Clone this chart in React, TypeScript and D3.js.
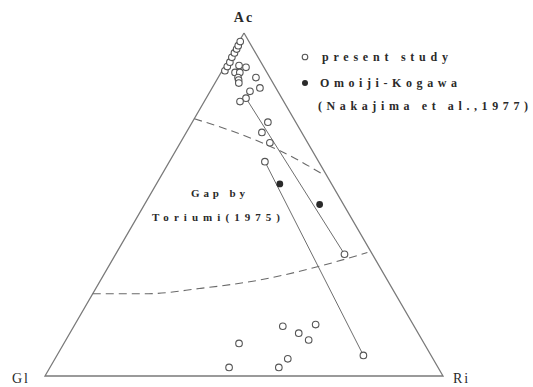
import React from "react";
import * as d3 from "d3";

// Ternary compositions, each point as [Ac, Gl, Ri] in percent
const presentStudy: [number, number, number][] = [
  // cluster close to the Ac apex along the Ac–Gl side
  [89, 10.3, 0.7],
  [90.2, 9.1, 0.7],
  [91.5, 7.8, 0.7],
  [92.9, 6.6, 0.5],
  [94.2, 5.3, 0.5],
  [95.3, 4.2, 0.5],
  [96.3, 3.3, 0.4],
  [97.5, 2.2, 0.3],
  // Ac-rich samples
  [90.5, 6, 3.5],
  [90, 4.5, 5.5],
  [88.5, 8, 3.5],
  [88.5, 6.8, 4.7],
  [87, 8, 5],
  [86.3, 8.2, 5.5],
  [85.4, 8.6, 6],
  [87, 3.5, 9.5],
  [84, 4, 12],
  [83, 7, 10],
  [81, 9, 10],
  [80, 11, 9],
  [74, 7, 19],
  [71, 10, 19],
  [68, 9.5, 22.5],
  [62.5, 13.5, 24],
  [35.5, 7, 57.5],
  [6, 17, 77],
  // Ri-rich samples near the base
  [14.5, 33, 52.5],
  [15, 24.5, 60.5],
  [12.5, 30, 57.5],
  [10.5, 28.5, 61],
  [9.5, 46.5, 44],
  [5, 36.5, 58.5],
  [2.5, 40, 57.5],
  [2.5, 52.5, 45],
];

const omoijiKogawa: [number, number, number][] = [
  [56, 13, 31],
  [50, 6, 44],
];

// Coexisting pairs joined by tie lines
const tieLines: [number, number, number][][] = [
  [
    [62.5, 13.5, 24],
    [6, 17, 77],
  ],
  [
    [80, 11, 9],
    [81, 9, 10],
    [35.5, 7, 57.5],
  ],
];

// Limits of the compositional gap (Toriumi, 1975)
const gapUpper: [number, number, number][] = [
  [75, 25, 0],
  [71.5, 17.5, 11],
  [68, 11.5, 20.5],
  [63.5, 5.5, 31],
  [59, 1, 40],
];
const gapLower: [number, number, number][] = [
  [24, 76, 0],
  [24, 62, 14],
  [25.5, 48.5, 26],
  [28, 32, 40],
  [32, 15, 53],
  [36, 1, 63],
];

const vertexLabels = ["Ac", "Gl", "Ri"];
const legendLabels = ["present study", "Omoiji-Kogawa", "(Nakajima et al.,1977)"];
const gapLabels = ["Gap by", "Toriumi(1975)"];

const W = 533;
const H = 387;

// Ac runs up the height, Ri along the base (offset by half of Ac)
const yScale = d3.scaleLinear().domain([0, 100]).range([376, 33]);
const xScale = d3.scaleLinear().domain([0, 100]).range([45, 443]);

const px = (p: [number, number, number]) => xScale(p[2] + p[0] / 2);
const py = (p: [number, number, number]) => yScale(p[0]);

const straight = d3
  .line<[number, number, number]>()
  .x(px)
  .y(py);
const smooth = d3
  .line<[number, number, number]>()
  .x(px)
  .y(py)
  .curve(d3.curveMonotoneX);

const corners: [number, number, number][] = [
  [100, 0, 0],
  [0, 100, 0],
  [0, 0, 100],
];

const serif = "'Liberation Serif', 'DejaVu Serif', serif";
const ink = "#2a2a2a";
const lineGrey = "#6e6e6e";

export default function App() {
  const [ac, gl, ri] = corners;
  return (
    <svg
      width={W}
      height={H}
      viewBox={`0 0 ${W} ${H}`}
      style={{ position: "absolute", left: 0, top: 0, background: "#fff" }}
    >
      {/* triangle frame */}
      <path
        d={straight([ac, gl, ri, ac]) || ""}
        fill="none"
        stroke="#7a7a7a"
        strokeWidth={1.3}
      />

      {/* gap boundaries */}
      {[gapUpper, gapLower].map((g, i) => (
        <path
          key={"gap" + i}
          d={smooth(g) || ""}
          fill="none"
          stroke="#6a6a6a"
          strokeWidth={1.1}
          strokeDasharray="8 5"
        />
      ))}

      {/* tie lines */}
      {tieLines.map((t, i) => (
        <path
          key={"tie" + i}
          d={straight(t) || ""}
          fill="none"
          stroke={lineGrey}
          strokeWidth={1}
        />
      ))}

      {/* sample points */}
      {presentStudy.map((p, i) => (
        <circle
          key={"ps" + i}
          cx={px(p)}
          cy={py(p)}
          r={3.3}
          fill="#fff"
          stroke="#555"
          strokeWidth={1.1}
        />
      ))}
      {omoijiKogawa.map((p, i) => (
        <circle key={"ok" + i} cx={px(p)} cy={py(p)} r={3.4} fill="#2a2a2a" />
      ))}

      {/* vertex labels */}
      <text
        x={px(ac)}
        y={22}
        textAnchor="middle"
        fontFamily={serif}
        fontWeight="bold"
        fontSize={14}
        letterSpacing={2}
        fill={ink}
      >
        {vertexLabels[0]}
      </text>
      <text x={12} y={383} fontFamily={serif} fontSize={14} letterSpacing={2} fill={ink}>
        {vertexLabels[1]}
      </text>
      <text x={453} y={383} fontFamily={serif} fontSize={14} letterSpacing={2} fill={ink}>
        {vertexLabels[2]}
      </text>

      {/* legend */}
      <circle cx={305} cy={57} r={2.8} fill="#fff" stroke="#555" strokeWidth={1.1} />
      <circle cx={305} cy={83} r={3} fill="#2a2a2a" />
      <text
        x={322}
        y={61}
        fontFamily={serif}
        fontWeight="bold"
        fontSize={12}
        textLength={126}
        lengthAdjust="spacing"
        fill={ink}
      >
        {legendLabels[0]}
      </text>
      <text
        x={320}
        y={87}
        fontFamily={serif}
        fontWeight="bold"
        fontSize={12}
        textLength={137}
        lengthAdjust="spacing"
        fill={ink}
      >
        {legendLabels[1]}
      </text>
      <text
        x={318}
        y={110}
        fontFamily={serif}
        fontWeight="bold"
        fontSize={12}
        textLength={210}
        lengthAdjust="spacing"
        fill={ink}
      >
        {legendLabels[2]}
      </text>

      {/* gap annotation */}
      <text
        x={191}
        y={197}
        fontFamily={serif}
        fontWeight="bold"
        fontSize={11}
        textLength={54}
        lengthAdjust="spacing"
        fill={ink}
      >
        {gapLabels[0]}
      </text>
      <text
        x={152}
        y={221}
        fontFamily={serif}
        fontWeight="bold"
        fontSize={11}
        textLength={128}
        lengthAdjust="spacing"
        fill={ink}
      >
        {gapLabels[1]}
      </text>
    </svg>
  );
}
